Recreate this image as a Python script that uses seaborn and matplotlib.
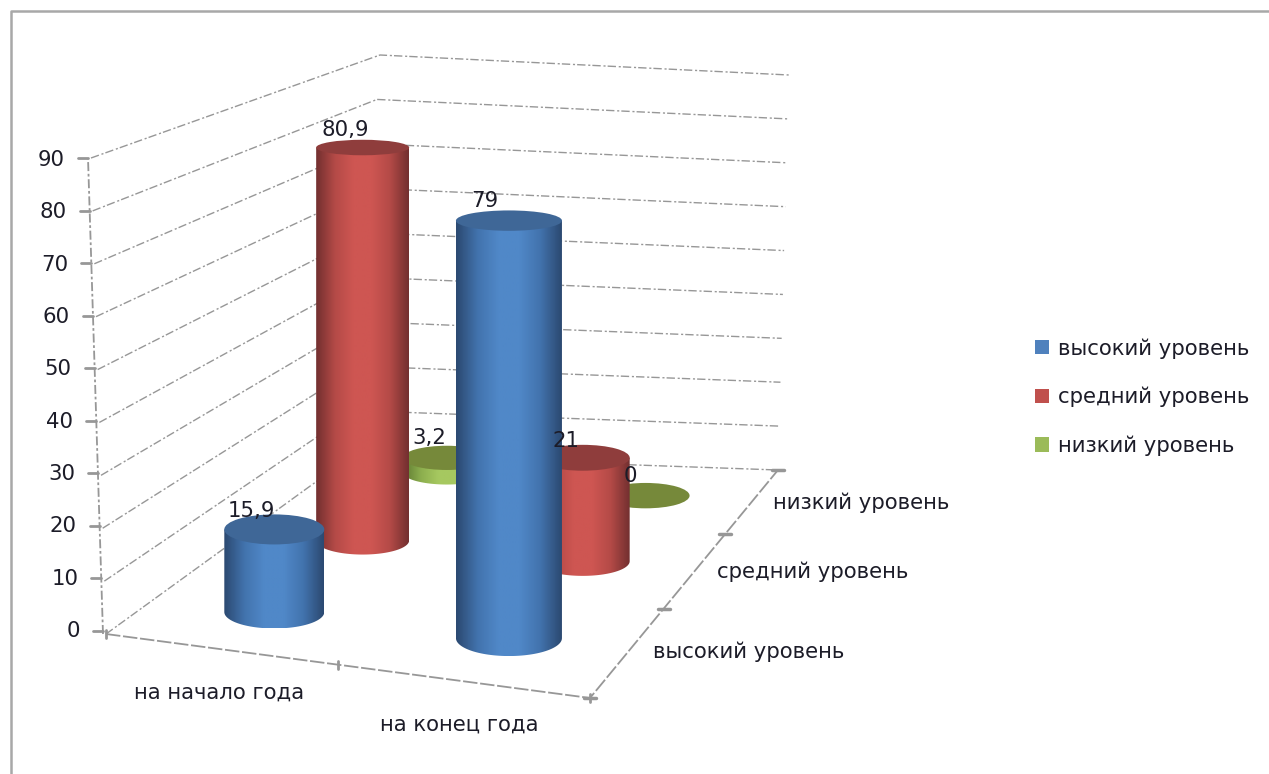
import numpy as np
import matplotlib
matplotlib.use('Agg')
import matplotlib.pyplot as plt
import seaborn as sns
from matplotlib.patches import Ellipse, PathPatch, Patch
from matplotlib.path import Path

# data
periods = ['на начало года', 'на конец года']
levels = ['высокий уровень', 'средний уровень', 'низкий уровень']
vals_high = [15.9, 79]
vals_mid = [80.9, 21]
vals_low = [3.2, 0]
val_labels = [['15,9', '79'], ['80,9', '21'], ['3,2', '0']]
y_ticks = [0, 10, 20, 30, 40, 50, 60, 70, 80, 90]

# colours: dark edge, mid, light centre, top of the cylinder
shades = [('#2c4a72', '#4273ad', '#5088c8', '#3f6797'),
          ('#743030', '#b44a47', '#ce5652', '#8f3d3c'),
          ('#5f7a32', '#8cae4e', '#a6c860', '#76893a')]
legend_cols = ['#4f81bd', '#c0504d', '#9bbb59']

sns.set_theme(style='white')
plt.rcParams['font.family'] = ['DejaVu Sans']
text_col = '#1c1c28'
grid_col = '#979797'
fs = 15.3

fig = plt.figure(figsize=(12.69, 7.74), dpi=100)
ax = fig.add_axes([0, 0, 1, 1])
ax.set_xlim(0, 1269)
ax.set_ylim(774, 0)
ax.axis('off')

# chart frame
ax.plot([11, 11, 1269], [774, 11, 11], color='#a8a8a8', lw=1.8, zorder=1)

# projection of the box: floor corners and top corners on the screen
FL, FR, BR, BL = (106, 634), (590, 698), (778, 470), (353, 455)
TFL, TBL, TBR = (91, 158), (380, 55), (789, 75)
ymax = 90


def floor_h():
    src = [(0, 0), (1, 0), (1, 1), (0, 1)]
    dst = [FL, FR, BR, BL]
    A, b = [], []
    for (u, v), (x, y) in zip(src, dst):
        A.append([u, v, 1, 0, 0, 0, -u * x, -v * x])
        A.append([0, 0, 0, u, v, 1, -u * y, -v * y])
        b += [x, y]
    return np.append(np.linalg.solve(np.array(A, float), np.array(b, float)), 1).reshape(3, 3)


H = floor_h()


def floor_xy(u, v):
    p = H @ np.array([u, v, 1.0])
    return p[0] / p[2], p[1] / p[2]


def px_per_unit(u, v):
    front = (476 + 20 * u) / ymax
    back = (396 - u) / ymax
    return front + (back - front) * v


def lerp(a, b, t):
    return a[0] + (b[0] - a[0]) * t, a[1] + (b[1] - a[1]) * t


# walls
for t in y_ticks:
    f = t / ymax
    p0 = lerp(FL, TFL, f)
    p1 = lerp(BL, TBL, f)
    p2 = lerp(BR, TBR, f)
    ax.plot([p0[0], p1[0], p2[0]], [p0[1], p1[1], p2[1]], color=grid_col, lw=1.0,
            ls=(0, (6, 2, 1.5, 1.5)), zorder=2)
    ty = p0[1] - 3 + 3 * f
    ax.plot([p0[0] - 13, p0[0] - 3], [ty, ty], color=grid_col, lw=2, zorder=2)
    ax.text(p0[0] - 26, ty + 2 * f, str(t), ha='right', va='center', fontsize=fs, color=text_col)

ax.plot([FL[0] - 3, TFL[0] - 3], [FL[1], TFL[1]], color=grid_col, lw=1.3, ls=(0, (5, 1.5, 1.5, 1.5)), zorder=2)
ax.plot([FL[0], FR[0], BR[0]], [FL[1], FR[1], BR[1]], color=grid_col, lw=1.3, ls=(0, (8, 1.5)), zorder=2)

# ticks on the floor edges
for u in [0, 0.535, 1]:
    x, y = floor_xy(u, 0)
    ax.plot([x, x], [y - 4, y + 4], color=grid_col, lw=2, zorder=2)
for v in [0, 1 / 3, 2 / 3, 1]:
    x, y = floor_xy(1, v)
    ax.plot([x - 6, x + 6], [y, y], color=grid_col, lw=2.5, zorder=2)


def cylinder(u, v, value, cols, rx, z):
    x, y0 = floor_xy(u, v)
    y1 = y0 - value * px_per_unit(u, v)
    k0 = 0.15 + 0.00035 * (y0 - 100)
    k1 = 0.15 + 0.00035 * (y1 - 100)
    ry0, ry1 = rx * k0, rx * k1
    if value > 0:
        t = np.linspace(0, np.pi, 60)
        xs = np.concatenate([x + rx * np.cos(t), [x - rx, x + rx, x + rx]])
        ys = np.concatenate([y0 + ry0 * np.sin(t), [y1, y1, y0]])
        body = PathPatch(Path(np.column_stack([xs, ys])), fc='none', ec='none', transform=ax.transData)
        ax.add_patch(body)
        pal = sns.blend_palette([cols[0], cols[1], cols[2], cols[2], cols[1], cols[0]], 80)
        im = ax.imshow(np.array(pal)[None, :, :], extent=(x - rx, x + rx, y0 + ry0, y1),
                       aspect='auto', zorder=z, interpolation='bilinear')
        im.set_clip_path(body)
    ax.add_patch(Ellipse((x, y1), 2 * rx, 2 * ry1, fc=cols[3], ec='none', zorder=z + 0.1))
    return x, y1


# back row first so the front cylinders cover it
us = [0.295, 0.786]
vs = [[1 / 6, 1 / 6], [0.52, 0.5], [0.915, 5 / 6]]
series = [vals_high, vals_mid, vals_low]
radii = [[50, 53], [46.5, 47], [44, 44]]
label_off = [[(-23, -18), (-24, -20)], [(-17, -18), (-17, -17)], [(-18, -20), (-15, -20)]]
z = 3
tops = {}
for s in [2, 1, 0]:
    for c in [0, 1]:
        tops[s, c] = cylinder(us[c], vs[s][c], series[s][c], shades[s], radii[s][c], z)
        z += 1

for (s, c), (x, y) in tops.items():
    dx, dy = label_off[s][c]
    ax.text(x + dx, y + dy, val_labels[s][c], ha='center', va='center', fontsize=fs,
            color=text_col, zorder=20)

# category labels
ax.text(219, 693, periods[0], ha='center', va='center', fontsize=fs, color=text_col)
ax.text(459, 725, periods[1], ha='center', va='center', fontsize=fs, color=text_col)
for name, x, y in zip(levels, [653, 717, 773], [652, 572, 503]):
    ax.text(x, y, name, ha='left', va='center', fontsize=fs, color=text_col)

handles = [Patch(fc=c, ec='none') for c in legend_cols]
ax.legend(handles, levels, loc='center left', bbox_to_anchor=(1035 / 1269, 1 - 397 / 774),
          frameon=False, fontsize=fs, labelcolor=text_col, handlelength=0.67, handleheight=0.67,
          handletextpad=0.43, labelspacing=1.32, borderpad=0, borderaxespad=0)

fig.savefig('out.png', dpi=100, facecolor='white')
